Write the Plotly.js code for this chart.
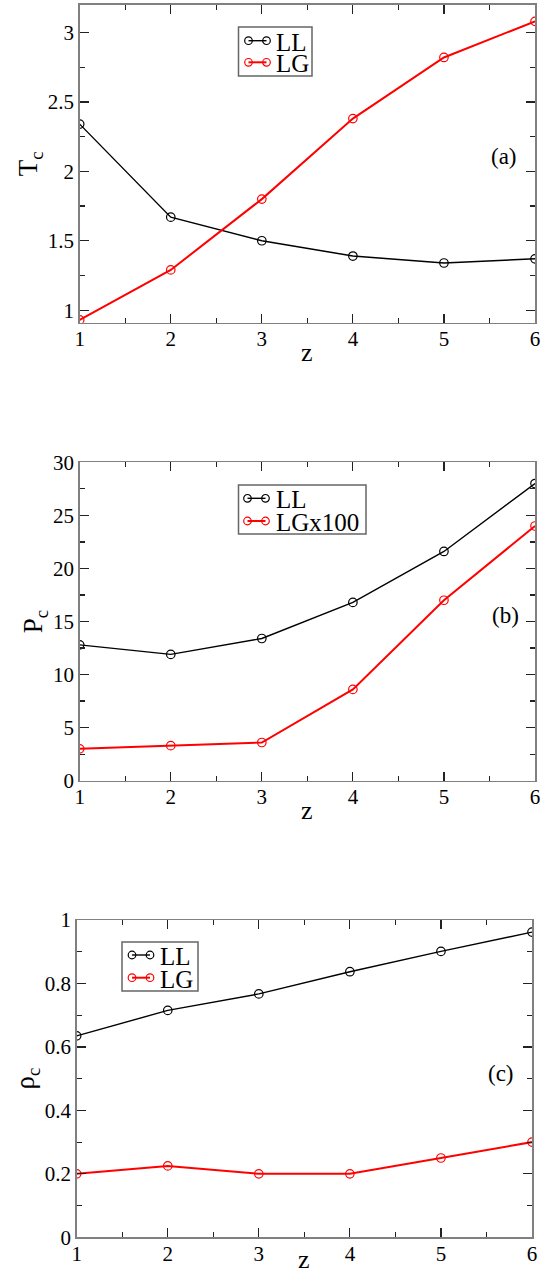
<!DOCTYPE html>
<html>
<head>
<meta charset="utf-8">
<script src="https://cdn.plot.ly/plotly-3.0.1.min.js"></script>
<style>
  html, body { margin: 0; padding: 0; background: #fff; }
  #chart { width: 546px; height: 1277px; }
</style>
</head>
<body>
<div id="chart"></div>
<script>
// Coordination number z
const z = [1, 2, 3, 4, 5, 6];

// (a) critical temperature
const tcLL = [2.34, 1.67, 1.50, 1.39, 1.34, 1.37];
const tcLG = [0.93, 1.29, 1.80, 2.38, 2.82, 3.08];

// (b) critical pressure (LG scaled by 100)
const pcLL = [12.8, 11.9, 13.4, 16.8, 21.6, 28.0];
const pcLG = [3.0, 3.3, 3.6, 8.6, 17.0, 24.0];

// (c) critical density
const rhoLL = [0.635, 0.715, 0.767, 0.837, 0.901, 0.962];
const rhoLG = [0.20, 0.225, 0.20, 0.20, 0.25, 0.30];

// Legend, axis and panel labels
const panelLabels = ['(a)', '(b)', '(c)'];
const legendA = ['LL', 'LG'];
const legendB = ['LL', 'LGx100'];
const legendC = ['LL', 'LG'];
const xTitle = 'z';

const W = 546, H = 1277;
const px = v => v / W;
const py = v => 1 - v / H;
const FONT = "'Liberation Serif', 'Times New Roman', serif";

function series(x, y, color, width, xa, ya) {
  return {
    x: x, y: y, xaxis: xa, yaxis: ya, type: 'scatter', mode: 'lines+markers',
    line: { color: color, width: width },
    marker: { symbol: 'circle-open', size: 8.5, color: color, line: { width: 1.2, color: color } },
    showlegend: false, hoverinfo: 'skip'
  };
}

const traces = [
  series(z, tcLL, '#000000', 1.4, 'x', 'y'),
  series(z, tcLG, '#ff0000', 2, 'x', 'y'),
  series(z, pcLL, '#000000', 1.4, 'x2', 'y2'),
  series(z, pcLG, '#ff0000', 2, 'x2', 'y2'),
  series(z, rhoLL, '#000000', 1.4, 'x3', 'y3'),
  series(z, rhoLG, '#ff0000', 2, 'x3', 'y3')
];

function axisBase(extra) {
  return Object.assign({
    showline: true, mirror: 'allticks', linecolor: '#808080', linewidth: 1.5,
    ticks: 'inside', ticklen: 9, tickwidth: 1.2, tickcolor: '#222',
    showgrid: false, zeroline: false,
    tickfont: { family: FONT, size: 21, color: '#000' }
  }, extra);
}

function xAxis(domain, anchor) {
  return axisBase({
    domain: domain, anchor: anchor, range: [1, 6], tick0: 1, dtick: 1,
    ticklabelstandoff: -3,
    minor: { ticks: 'inside', ticklen: 5, tickwidth: 1.2, tickcolor: '#222', dtick: 0.5, tick0: 1, showgrid: false }
  });
}

function yAxis(domain, anchor, range, dtick, minorDtick, title) {
  return axisBase({
    domain: domain, anchor: anchor, range: range, dtick: dtick, tick0: 0,
    minor: { ticks: 'inside', ticklen: 5, tickwidth: 1.2, tickcolor: '#222', dtick: minorDtick, tick0: 0, showgrid: false },
    title: { text: title, font: { family: FONT, size: 27, color: '#000' }, standoff: 2 }
  });
}

const domA = [1 - 322.7 / H, 1 - 4.7 / H];
const domB = [1 - 780.7 / H, 1 - 462.3 / H];
const domC = [1 - 1237.3 / H, 1 - 920 / H];
const xdomAB = [79.7 / W, 535 / W];
const xdomC = [76.7 / W, 532 / W];

// Legend boxes drawn as a framed sample: circle - line - circle, then label
const shapes = [];
const annotations = [];
function legendBox(box, rows) {
  shapes.push({
    type: 'rect', xref: 'paper', yref: 'paper',
    x0: px(box.x0), x1: px(box.x1), y0: py(box.y1), y1: py(box.y0),
    line: { color: '#666', width: 1.5 }, fillcolor: '#ffffff', layer: 'above'
  });
  rows.forEach(r => {
    shapes.push({
      type: 'line', xref: 'paper', yref: 'paper',
      x0: px(box.c1), x1: px(box.c2), y0: py(r.y), y1: py(r.y),
      line: { color: r.color, width: r.w }, layer: 'above'
    });
    [box.c1, box.c2].forEach(cx => {
      shapes.push({
        type: 'circle', xref: 'paper', yref: 'paper',
        x0: px(cx - 3.8), x1: px(cx + 3.8), y0: py(r.y + 3.8), y1: py(r.y - 3.8),
        line: { color: r.color, width: 1.2 }, fillcolor: 'rgba(0,0,0,0)', layer: 'above'
      });
    });
    annotations.push({
      xref: 'paper', yref: 'paper', x: px(box.tx), y: py(r.y + 1),
      xanchor: 'left', yanchor: 'middle', showarrow: false, text: r.label,
      height: 20, valign: 'middle',
      font: { family: FONT, size: 25, color: '#000' }
    });
  });
}

legendBox({ x0: 238.5, x1: 312, y0: 27, y1: 76, c1: 248.5, c2: 266.5, tx: 274 }, [
  { y: 40.7, color: '#000000', w: 1.4, label: legendA[0] },
  { y: 62.3, color: '#ff0000', w: 2, label: legendA[1] }
]);
legendBox({ x0: 238.5, x1: 366, y0: 485, y1: 534, c1: 247.5, c2: 265.5, tx: 274 }, [
  { y: 498.3, color: '#000000', w: 1.4, label: legendB[0] },
  { y: 521, color: '#ff0000', w: 2, label: legendB[1] }
]);
legendBox({ x0: 122, x1: 198, y0: 942, y1: 991, c1: 132, c2: 150, tx: 157.5 }, [
  { y: 955, color: '#000000', w: 1.4, label: legendC[0] },
  { y: 977.7, color: '#ff0000', w: 2, label: legendC[1] }
]);

// Panel tags and the z titles under each x axis
[['x', 'y', 0.933, 0.522, -0.094], ['x2', 'y2', 0.935, 0.520, -0.094], ['x3', 'y3', 0.933, 0.517, -0.069]].forEach((p, i) => {
  annotations.push({
    xref: p[0] + ' domain', yref: p[1] + ' domain', x: p[2], y: p[3],
    xanchor: 'center', yanchor: 'middle', showarrow: false, text: panelLabels[i],
    font: { family: FONT, size: 23, color: '#000' }
  });
  annotations.push({
    xref: p[0] + ' domain', yref: p[1] + ' domain', x: 0.5, y: p[4],
    xanchor: 'center', yanchor: 'middle', showarrow: false, text: xTitle,
    font: { family: FONT, size: 26, color: '#000' }
  });
});

const layout = {
  width: W, height: H,
  margin: { l: 0, r: 0, t: 0, b: 0 },
  paper_bgcolor: '#ffffff', plot_bgcolor: '#ffffff',
  showlegend: false,
  xaxis: xAxis(xdomAB, 'y'),
  yaxis: yAxis(domA, 'x', [0.91, 3.2], 0.5, 0.25, 'T<sub>c</sub>'),
  xaxis2: xAxis(xdomAB, 'y2'),
  yaxis2: yAxis(domB, 'x2', [0, 30], 5, 2.5, 'P<sub>c</sub>'),
  xaxis3: xAxis(xdomC, 'y3'),
  yaxis3: yAxis(domC, 'x3', [0, 1], 0.2, 0.1, 'ρ<sub>c</sub>'),
  shapes: shapes,
  annotations: annotations
};

Plotly.newPlot('chart', traces, layout, { staticPlot: true, displayModeBar: false });
</script>
</body>
</html>
